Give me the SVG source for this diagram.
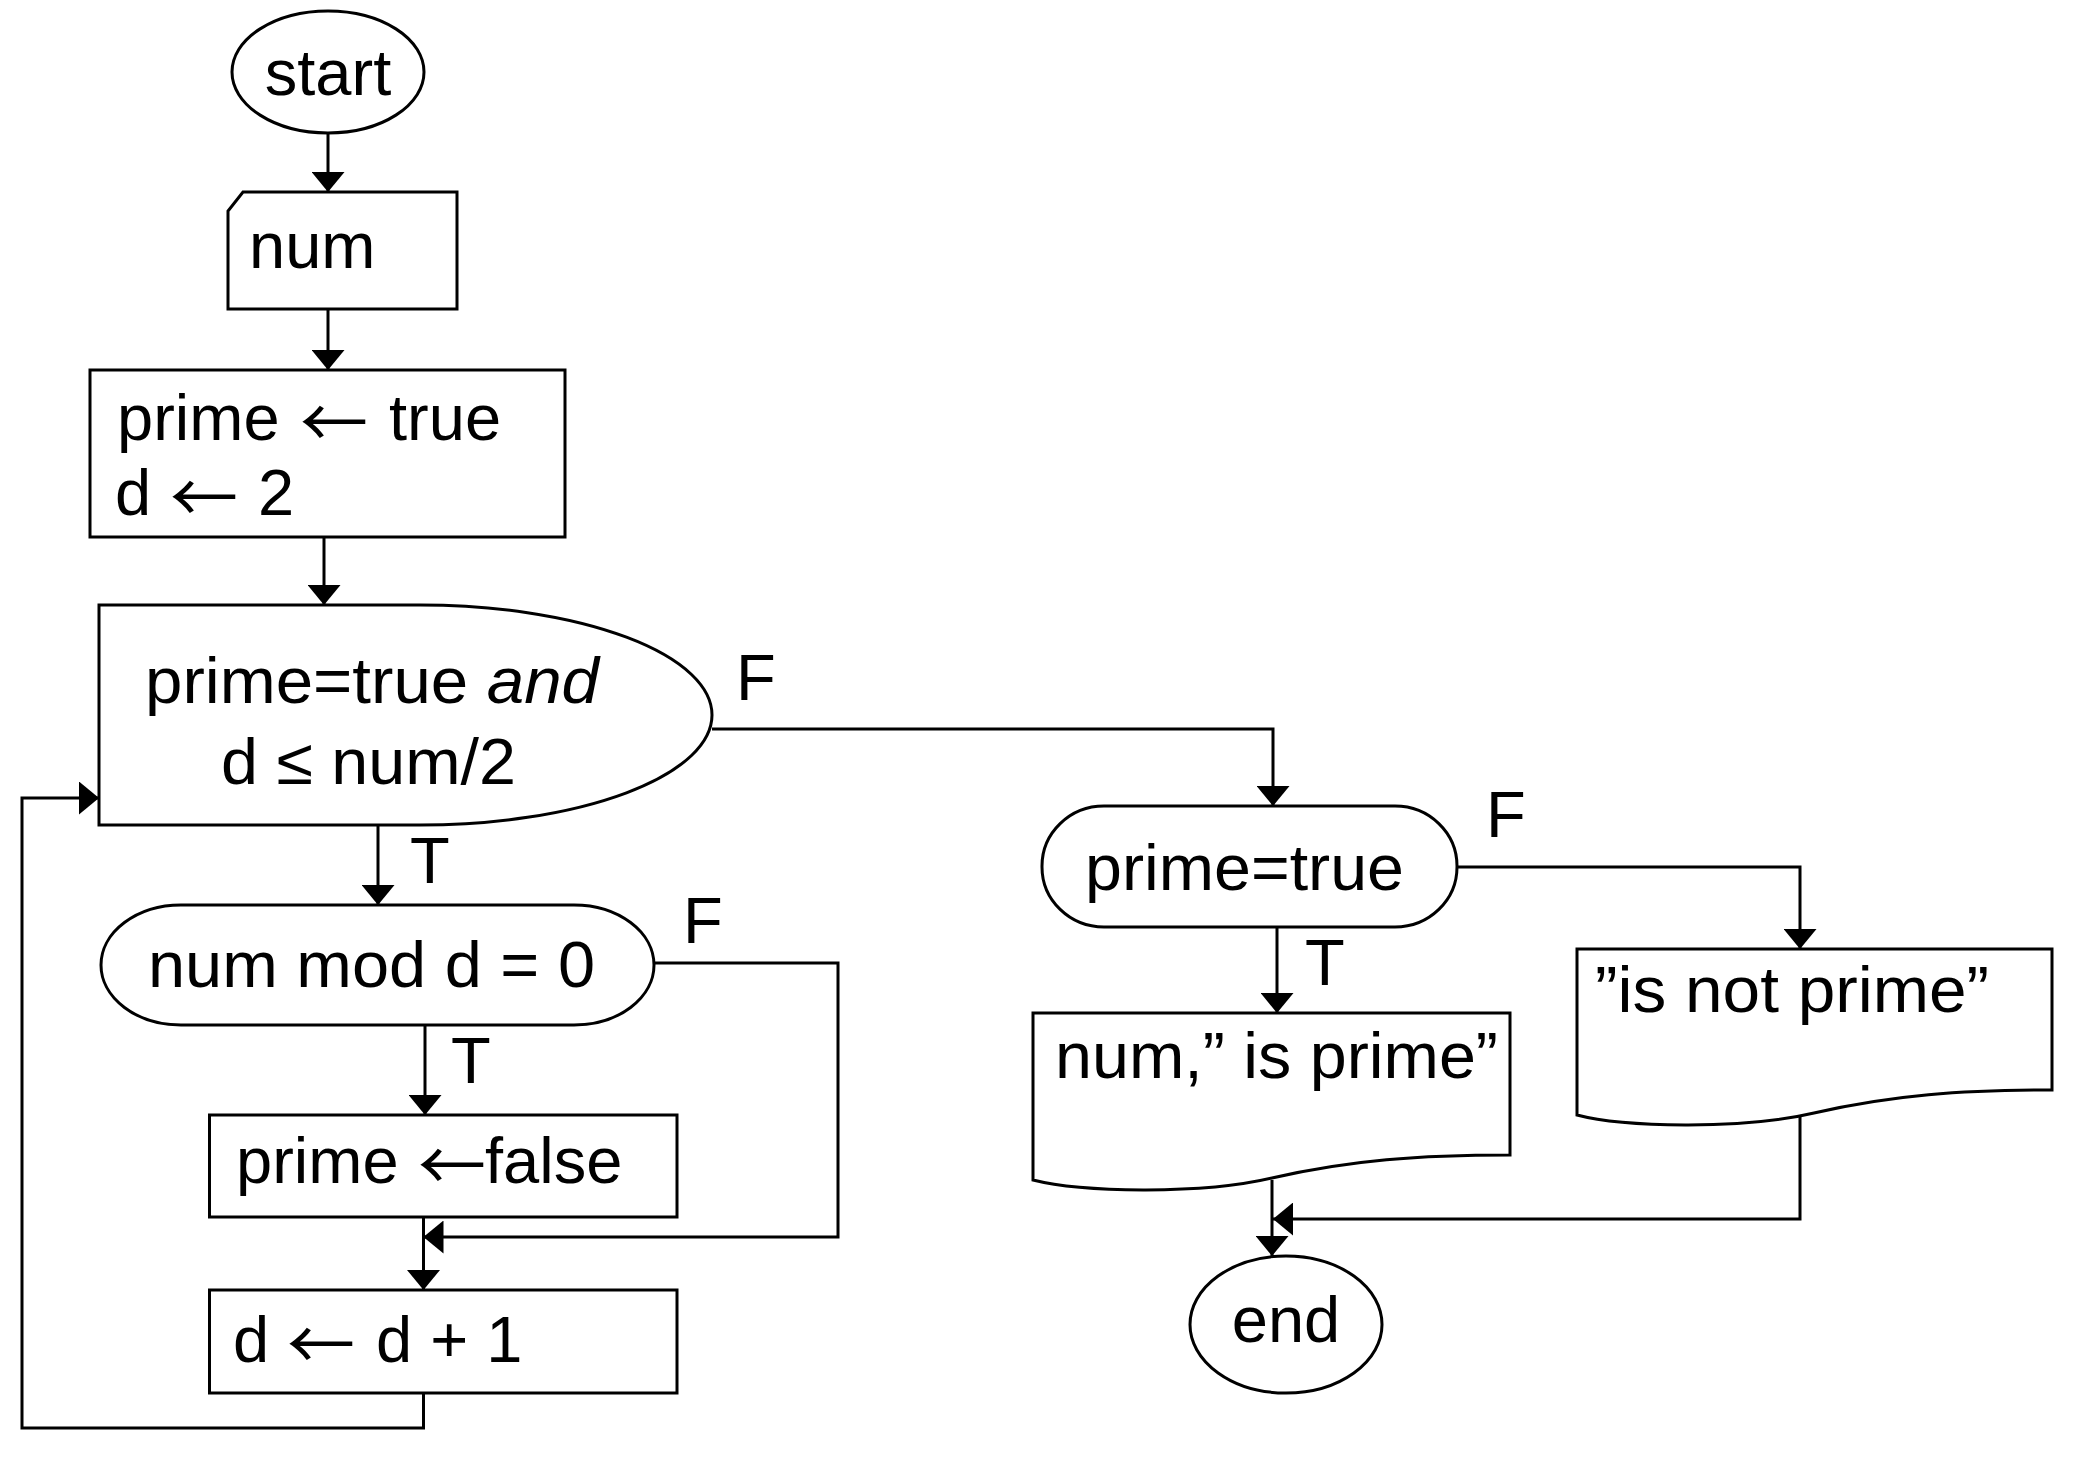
<svg xmlns="http://www.w3.org/2000/svg" width="2073" height="1465" viewBox="0 0 2073 1465">
<defs>
<style>
.s{fill:#fff;stroke:#000;stroke-width:3}
.t{font-family:"Liberation Sans",Arial,sans-serif;font-size:65px;fill:#000}
.a{font-family:"Noto Sans CJK JP","DejaVu Sans",sans-serif;font-size:68px}
.c{fill:none;stroke:#000;stroke-width:3}
</style>
<marker id="ah" markerUnits="userSpaceOnUse" viewBox="0 0 20 33" refX="20" refY="16.5" markerWidth="20" markerHeight="33" orient="auto">
<path d="M0,0 L20,16.5 L0,33 Z" fill="#000"/>
</marker>
</defs>
<rect width="2073" height="1465" fill="#fff"/>
<g id="connectors">
<path class="c" d="M328,133 V192" marker-end="url(#ah)"/>
<path class="c" d="M328,309 V370" marker-end="url(#ah)"/>
<path class="c" d="M324,537 V605" marker-end="url(#ah)"/>
<path class="c" d="M378,825 V905" marker-end="url(#ah)"/>
<path class="c" d="M425,1025 V1115" marker-end="url(#ah)"/>
<path class="c" d="M423.5,1217 V1290" marker-end="url(#ah)"/>
<path class="c" d="M654,963 H838 V1237 H423.5" marker-end="url(#ah)"/>
<path class="c" d="M423.5,1393 V1428 H22 V798 H99" marker-end="url(#ah)"/>
<path class="c" d="M712,729 H1273 V806" marker-end="url(#ah)"/>
<path class="c" d="M1277,927 V1013" marker-end="url(#ah)"/>
<path class="c" d="M1457,867 H1800 V949" marker-end="url(#ah)"/>
<path class="c" d="M1272,1180 V1256" marker-end="url(#ah)"/>
<path class="c" d="M1800,1113 V1219 H1273" marker-end="url(#ah)"/>
<text class="t" x="736" y="700">F</text>
<text class="t" x="410" y="883">T</text>
<text class="t" x="683" y="943">F</text>
<text class="t" x="451" y="1083">T</text>
<text class="t" x="1486" y="837">F</text>
<text class="t" x="1305" y="985">T</text>
</g>
<g id="start">
<ellipse class="s" cx="328" cy="72" rx="96" ry="61"/>
<text class="t" x="328" y="95" text-anchor="middle">start</text>
</g>
<g id="input-num">
<path class="s" d="M243,192 H457 V309 H228 V211 Z"/>
<text class="t" x="249" y="268">num</text>
</g>
<g id="init">
<rect class="s" x="90" y="370" width="475" height="167"/>
<text class="t" x="117" y="440">prime <tspan class="a" x="300" dy="8">←</tspan><tspan x="371" dy="-8"> true</tspan></text>
<text class="t" x="115" y="515">d <tspan class="a" x="170" dy="8">←</tspan><tspan x="240" dy="-8"> 2</tspan></text>
</g>
<g id="loop">
<path class="s" d="M99,605 H420 A292,110 0 0 1 420,825 H99 Z"/>
<text class="t" x="145" y="703" textLength="454" lengthAdjust="spacingAndGlyphs">prime=true <tspan font-style="italic">and</tspan></text>
<text class="t" x="221" y="784" textLength="295" lengthAdjust="spacingAndGlyphs">d ≤ num/2</text>
</g>
<g id="mod">
<rect class="s" x="101" y="905" width="553" height="120" rx="80" ry="60"/>
<text class="t" x="148" y="987" textLength="447" lengthAdjust="spacingAndGlyphs">num mod d = 0</text>
</g>
<g id="set-false">
<rect class="s" x="209.5" y="1115" width="467.5" height="102"/>
<text class="t" x="236" y="1183">prime <tspan class="a" x="418" dy="8">←</tspan><tspan x="485" dy="-8">false</tspan></text>
</g>
<g id="inc">
<rect class="s" x="209.5" y="1290" width="467.5" height="103"/>
<text class="t" x="233" y="1362">d <tspan class="a" x="287" dy="8">←</tspan><tspan x="358" dy="-8"> d + 1</tspan></text>
</g>
<g id="check">
<rect class="s" x="1042" y="806" width="415" height="121" rx="62" ry="60"/>
<text class="t" x="1085" y="890" textLength="319" lengthAdjust="spacingAndGlyphs">prime=true</text>
</g>
<g id="out-prime">
<path class="s" d="M1033,1013 H1510 V1155 C1420,1155 1350,1160 1272,1178 C1200,1195 1080,1192 1033,1180 Z"/>
<text class="t" x="1055" y="1078" textLength="443" lengthAdjust="spacingAndGlyphs">num,” is prime”</text>
</g>
<g id="out-not-prime">
<path class="s" d="M1577,949 H2052 V1090 C1962,1090 1892,1095 1814,1113 C1742,1130 1622,1127 1577,1115 Z"/>
<text class="t" x="1595" y="1012" textLength="394" lengthAdjust="spacingAndGlyphs">”is not prime”</text>
</g>
<g id="end">
<ellipse class="s" cx="1286" cy="1324.5" rx="96" ry="68.5"/>
<text class="t" x="1286" y="1342" text-anchor="middle">end</text>
</g>
</svg>
